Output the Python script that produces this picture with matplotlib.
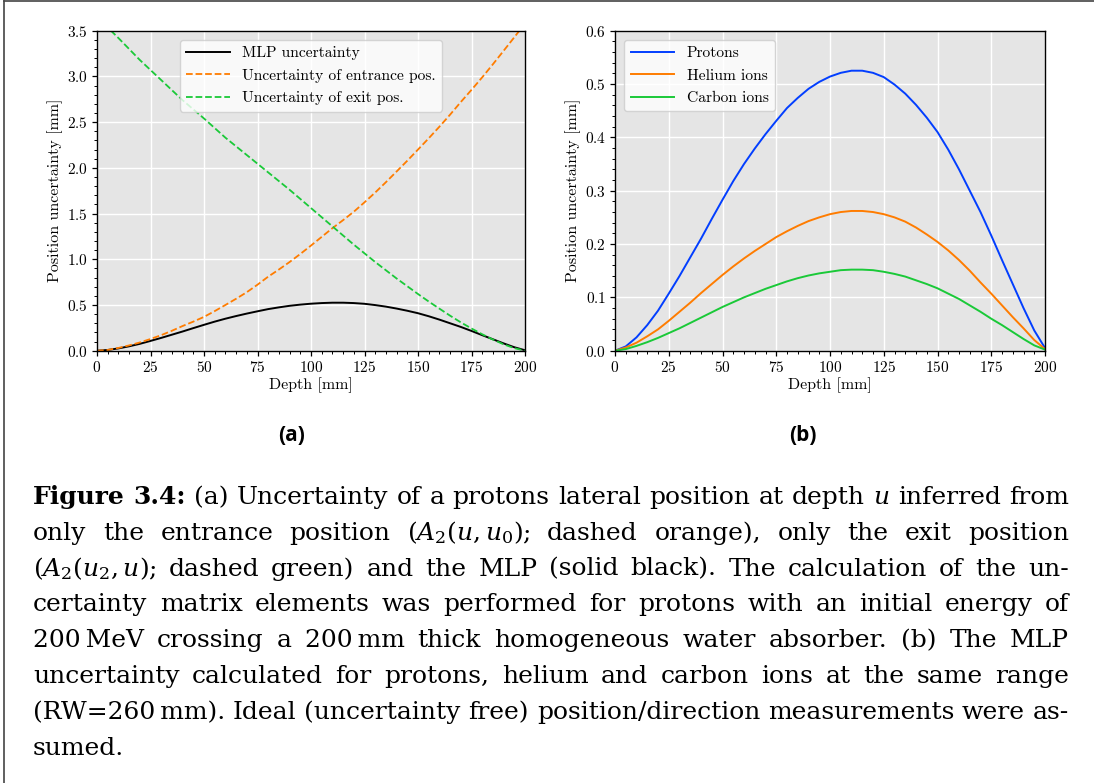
import numpy as np
import matplotlib
matplotlib.use("Agg")
import matplotlib.pyplot as plt
from matplotlib.ticker import MultipleLocator
from matplotlib.lines import Line2D

plt.rcParams['font.family'] = 'serif'
plt.rcParams['font.serif'] = ['cmr10']
plt.rcParams['axes.formatter.use_mathtext'] = True
plt.rcParams['mathtext.fontset'] = 'dejavuserif'

# ---------------- data ----------------
depth = [0, 5, 10, 15, 20, 25, 30, 35, 40, 45, 50, 55, 60, 65, 70, 75, 80, 85, 90, 95, 100,
         105, 110, 115, 120, 125, 130, 135, 140, 145, 150, 155, 160, 165, 170, 175, 180,
         185, 190, 195, 200]
mlp_protons = [0.0, 0.008, 0.025, 0.048, 0.075, 0.107, 0.14, 0.175, 0.21, 0.247, 0.283,
               0.318, 0.35, 0.379, 0.406, 0.431, 0.455, 0.474, 0.491, 0.504, 0.514,
               0.521, 0.525, 0.525, 0.521, 0.513, 0.499, 0.482, 0.461, 0.437, 0.41,
               0.377, 0.34, 0.3, 0.26, 0.216, 0.17, 0.125, 0.08, 0.038, 0.005]
entrance_unc = [0.0, 0.008, 0.03, 0.058, 0.09, 0.128, 0.17, 0.218, 0.27, 0.318, 0.37,
                0.433, 0.5, 0.568, 0.64, 0.722, 0.81, 0.888, 0.97, 1.058, 1.15,
                1.245, 1.34, 1.428, 1.52, 1.623, 1.73, 1.843, 1.96, 2.078, 2.2,
                2.323, 2.45, 2.582, 2.72, 2.853, 2.99, 3.133, 3.28, 3.428, 3.58]
exit_unc = [3.65, 3.535, 3.42, 3.3, 3.18, 3.07, 2.96, 2.85, 2.74, 2.64, 2.54,
            2.435, 2.33, 2.235, 2.14, 2.045, 1.95, 1.855, 1.76, 1.66, 1.56,
            1.46, 1.36, 1.26, 1.16, 1.065, 0.97, 0.88, 0.79, 0.705, 0.62,
            0.538, 0.46, 0.383, 0.31, 0.243, 0.18, 0.122, 0.07, 0.028, 0.0]
helium = [0.0, 0.006, 0.015, 0.027, 0.04, 0.056, 0.073, 0.09, 0.108, 0.125, 0.142,
          0.158, 0.173, 0.187, 0.2, 0.213, 0.224, 0.234, 0.243, 0.25, 0.256,
          0.26, 0.262, 0.262, 0.26, 0.256, 0.25, 0.242, 0.231, 0.218, 0.204,
          0.188, 0.17, 0.15, 0.128, 0.107, 0.085, 0.063, 0.042, 0.02, 0.003]
carbon = [0.0, 0.003, 0.009, 0.016, 0.024, 0.033, 0.042, 0.052, 0.062, 0.072, 0.082,
          0.091, 0.1, 0.108, 0.116, 0.123, 0.13, 0.136, 0.141, 0.145, 0.148,
          0.151, 0.152, 0.152, 0.151, 0.148, 0.144, 0.139, 0.132, 0.125, 0.117,
          0.107, 0.097, 0.085, 0.073, 0.06, 0.048, 0.035, 0.022, 0.01, 0.002]

labels_a = ["MLP uncertainty", "Uncertainty of entrance pos.", "Uncertainty of exit pos."]
labels_b = ["Protons", "Helium ions", "Carbon ions"]
xticks = [0, 25, 50, 75, 100, 125, 150, 175, 200]

W, H = 1094, 783
fig = plt.figure(figsize=(W / 100, H / 100), dpi=100)
fig.patch.set_facecolor('white')

BG = '#E5E5E5'
FS_TICK = 11
FS_LAB = 11.5
FS_LEG = 11.2


def style_axes(ax, ymax, ymajor, yminor):
    ax.set_facecolor(BG)
    ax.set_xlim(0, 200)
    ax.set_ylim(0, ymax)
    ax.set_xticks(xticks)
    ax.xaxis.set_minor_locator(MultipleLocator(5))
    ax.yaxis.set_major_locator(MultipleLocator(ymajor))
    ax.yaxis.set_minor_locator(MultipleLocator(yminor))
    ax.grid(True, which='major', color='white', lw=1.0)
    ax.set_axisbelow(True)
    for s in ax.spines.values():
        s.set_color('black')
        s.set_linewidth(1.0)
    ax.tick_params(which='major', direction='out', length=3.5, width=0.9,
                   labelsize=FS_TICK, colors='black', pad=3)
    ax.tick_params(which='minor', direction='out', length=2, width=0.7, colors='black')
    ax.set_xlabel("Depth [mm]", fontsize=FS_LAB, labelpad=2)
    ax.set_ylabel("Position uncertainty [mm]", fontsize=FS_LAB, labelpad=3)


leg_kw = dict(fontsize=FS_LEG, frameon=True, fancybox=True, framealpha=0.8,
              edgecolor='#cccccc', facecolor='white', handlelength=2.8,
              borderaxespad=0.6, labelspacing=0.55)

# ---- panel (a)
axa = fig.add_axes([97 / W, 1 - 350.7 / H, 428 / W, 320 / H])
axa.plot(depth, mlp_protons, color='black', lw=1.4, label=labels_a[0])
axa.plot(depth, entrance_unc, color='#ff7c00', lw=1.3, ls='--', label=labels_a[1])
axa.plot(depth, exit_unc, color='#1ac938', lw=1.3, ls='--', label=labels_a[2])
style_axes(axa, 3.5, 0.5, 0.1)
axa.legend(loc='upper center', **leg_kw)

# ---- panel (b)
axb = fig.add_axes([615 / W, 1 - 350.7 / H, 430 / W, 320 / H])
axb.plot(depth, mlp_protons, color='#023eff', lw=1.4, label=labels_b[0])
axb.plot(depth, helium, color='#ff7c00', lw=1.4, label=labels_b[1])
axb.plot(depth, carbon, color='#1ac938', lw=1.4, label=labels_b[2])
style_axes(axb, 0.6, 0.1, 0.02)
axb.legend(loc='upper left', **leg_kw)

# ---- subfigure labels
fig.text(292 / W, 1 - 436 / H, "(a)", family='Open Sans', weight='bold',
         fontsize=15, ha='center', va='center')
fig.text(803 / W, 1 - 436 / H, "(b)", family='Open Sans', weight='bold',
         fontsize=15, ha='center', va='center')

# ---- border (top and left edges)
fig.add_artist(Line2D([3.5 / W, 3.5 / W], [0, 1 - 1 / H], color='#444444', lw=1.2,
                      transform=fig.transFigure))
fig.add_artist(Line2D([3.5 / W, 1], [1 - 1 / H, 1 - 1 / H], color='#444444', lw=1.2,
                      transform=fig.transFigure))

# ---- caption (justified)
caption_lines = [
    [("Figure", 'bold'), ("3.4:", 'bold'), ("(a)", None), ("Uncertainty", None), ("of", None),
     ("a", None), ("protons", None), ("lateral", None), ("position", None), ("at", None),
     ("depth", None), ("$u$", None), ("inferred", None), ("from", None)],
    [("only", None), ("the", None), ("entrance", None), ("position", None),
     ("($A_2(u,u_0)$;", None), ("dashed", None), ("orange),", None), ("only", None),
     ("the", None), ("exit", None), ("position", None)],
    [("($A_2(u_2,u)$;", None), ("dashed", None), ("green)", None), ("and", None), ("the", None),
     ("MLP", None), ("(solid", None), ("black).", None), ("The", None), ("calculation", None),
     ("of", None), ("the", None), ("un-", None)],
    [("certainty", None), ("matrix", None), ("elements", None), ("was", None),
     ("performed", None), ("for", None), ("protons", None), ("with", None), ("an", None),
     ("initial", None), ("energy", None), ("of", None)],
    [("200\u2009MeV", None), ("crossing", None), ("a", None), ("200\u2009mm", None),
     ("thick", None), ("homogeneous", None), ("water", None), ("absorber.", None),
     ("(b)", None), ("The", None), ("MLP", None)],
    [("uncertainty", None), ("calculated", None), ("for", None), ("protons,", None),
     ("helium", None), ("and", None), ("carbon", None), ("ions", None), ("at", None),
     ("the", None), ("same", None), ("range", None)],
    [("(RW=260\u2009mm).", None), ("Ideal", None), ("(uncertainty", None), ("free)", None),
     ("position/direction", None), ("measurements", None), ("were", None), ("as-", None)],
    [("sumed.", None)],
]

CAP_FS = 18
X0, X1 = 33.0, 1069.0
BASE0, LSP = 504.0, 35.8
renderer = fig.canvas.get_renderer()

for i, line in enumerate(caption_lines):
    yb = 1 - (BASE0 + i * LSP) / H
    arts = []
    for word, wt in line:
        t = fig.text(0, yb, word, family=['DejaVu Serif'], fontsize=CAP_FS,
                     weight=(wt or 'normal'), va='baseline', ha='left', color='black')
        arts.append(t)
    widths = [a.get_window_extent(renderer).width for a in arts]
    total = sum(widths)
    n = len(arts)
    last = (i == len(caption_lines) - 1)
    if n > 1 and not last:
        gap = (X1 - X0 - total) / (n - 1)
    else:
        gap = 6.0
    x = X0
    for a, w in zip(arts, widths):
        a.set_x(x / W)
        x += w + gap

fig.savefig("out.png", dpi=100, facecolor='white')
